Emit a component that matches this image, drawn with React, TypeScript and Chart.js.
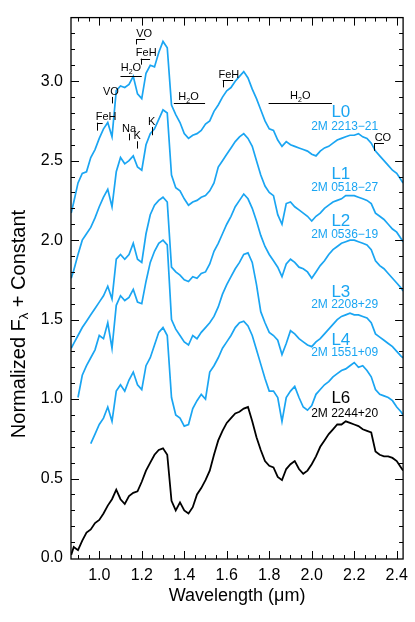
import { useEffect, useRef } from 'react';
import { Chart, registerables } from 'chart.js';

Chart.register(...registerables);

// Wavelength grid (micron)
const wavelength = [
  0.868, 0.88, 0.90, 0.92, 0.94, 0.96, 0.98,
  1.00, 1.02, 1.04, 1.06, 1.08, 1.10, 1.12, 1.14, 1.16, 1.18,
  1.20, 1.22, 1.24, 1.26, 1.28, 1.30, 1.32, 1.34, 1.36, 1.38,
  1.40, 1.42, 1.44, 1.46, 1.48, 1.50, 1.52, 1.54, 1.56, 1.58,
  1.60, 1.62, 1.64, 1.66, 1.68, 1.70, 1.72, 1.74, 1.76, 1.78,
  1.80, 1.82, 1.84, 1.86, 1.88, 1.90, 1.92, 1.94, 1.96, 1.98,
  2.00, 2.02, 2.04, 2.06, 2.08, 2.10, 2.12, 2.14, 2.16, 2.18,
  2.20, 2.22, 2.24, 2.26, 2.28, 2.30, 2.32, 2.34, 2.36, 2.38,
  2.40, 2.42, 2.43,
];

const fluxL0 = [
  2.17, 2.24, 2.36, 2.42, 2.43, 2.52, 2.57,
  2.64, 2.70, 2.74, 2.65, 2.94, 2.97, 2.96, 2.98, 3.03, 2.92,
  2.89, 3.05, 3.10, 3.09, 3.18, 3.25, 3.21, 2.85, 2.79, 2.74,
  2.67, 2.64, 2.66, 2.67, 2.69, 2.73, 2.75, 2.81, 2.85, 2.90,
  2.94, 2.96, 3.00, 3.03, 3.06, 3.02, 2.95, 2.89, 2.82, 2.75,
  2.70, 2.69, 2.63, 2.59, 2.62, 2.60, 2.59, 2.58, 2.57, 2.56,
  2.54, 2.53, 2.56, 2.58, 2.59, 2.61, 2.63, 2.64, 2.65, 2.66,
  2.66, 2.67, 2.65, 2.64, 2.61, 2.56, 2.53, 2.50, 2.47, 2.44,
  2.42, 2.38, 2.36,
];

const fluxL1 = [
  1.76, 1.81, 1.91, 2.00, 2.04, 2.08, 2.14,
  2.21, 2.27, 2.32, 2.21, 2.43, 2.52, 2.48, 2.50, 2.53, 2.46,
  2.44, 2.60, 2.67, 2.70, 2.76, 2.82, 2.80, 2.41, 2.33, 2.31,
  2.26, 2.22, 2.24, 2.25, 2.27, 2.28, 2.31, 2.36, 2.46, 2.50,
  2.54, 2.58, 2.62, 2.65, 2.67, 2.64, 2.59, 2.50, 2.41, 2.34,
  2.30, 2.28, 2.16, 2.10, 2.23, 2.24, 2.21, 2.19, 2.17, 2.15,
  2.12, 2.15, 2.17, 2.20, 2.22, 2.24, 2.25, 2.26, 2.28, 2.28,
  2.28, 2.27, 2.26, 2.25, 2.23, 2.17, 2.15, 2.13, 2.10, 2.07,
  2.05, 2.01, 1.99,
];

const fluxL2 = [
  1.32, 1.35, 1.40, 1.45, 1.49, 1.53, 1.57,
  1.61, 1.65, 1.71, 1.63, 1.88, 1.91, 1.88, 1.91, 1.98, 1.88,
  1.86, 2.04, 2.16, 2.22, 2.25, 2.27, 2.24, 1.83, 1.80, 1.78,
  1.75, 1.74, 1.77, 1.76, 1.79, 1.80, 1.85, 1.93, 1.98, 2.04,
  2.10, 2.15, 2.21, 2.25, 2.29, 2.26, 2.20, 2.12, 2.03, 1.96,
  1.91, 1.87, 1.83, 1.77, 1.85, 1.88, 1.86, 1.83, 1.82, 1.80,
  1.76, 1.80, 1.84, 1.87, 1.91, 1.94, 1.96, 1.98, 1.99, 2.00,
  2.00, 1.99, 1.98, 1.97, 1.94, 1.87, 1.84, 1.82, 1.79, 1.76,
  1.73, 1.70, 1.68,
];

const fluxL3 = [
  null, null, 1.01, 1.15, 1.21, 1.26, 1.31,
  1.40, 1.38, 1.48, 1.32, 1.59, 1.65, 1.62, 1.64, 1.69, 1.61,
  1.60, 1.74, 1.86, 1.93, 1.98, 2.00, 1.97, 1.50, 1.44, 1.40,
  1.36, 1.34, 1.40, 1.38, 1.42, 1.45, 1.48, 1.52, 1.58, 1.66,
  1.72, 1.77, 1.82, 1.86, 1.91, 1.92, 1.86, 1.72, 1.55, 1.48,
  1.42, 1.40, 1.37, 1.28, 1.35, 1.43, 1.41, 1.38, 1.36, 1.34,
  1.33, 1.36, 1.38, 1.41, 1.44, 1.47, 1.50, 1.52, 1.53, 1.54,
  1.53, 1.53, 1.52, 1.51, 1.48, 1.41, 1.39, 1.37, 1.35, 1.33,
  1.30, 1.27, 1.26,
];

const fluxL4 = [
  null, null, null, null, null, 0.72, 0.78,
  0.84, 0.88, 0.95, 0.86, 1.05, 1.09, 1.05, 1.12, 1.17, 1.09,
  1.06, 1.21, 1.26, 1.34, 1.42, 1.45, 1.40, 1.01, 0.90, 0.88,
  0.83, 0.84, 0.94, 0.99, 1.03, 1.00, 1.17, 1.21, 1.26, 1.32,
  1.36, 1.40, 1.45, 1.48, 1.49, 1.46, 1.40, 1.31, 1.22, 1.13,
  1.05, 1.05, 1.01, 0.86, 1.01, 1.05, 1.08, 1.01, 0.95, 0.93,
  0.96, 1.03, 1.06, 1.09, 1.11, 1.14, 1.16, 1.18, 1.19, 1.21,
  1.23, 1.20, 1.21, 1.18, 1.14, 1.06, 1.03, 1.02, 1.01, 0.99,
  0.95, 0.92, 0.90,
];

const fluxL6 = [
  0.02, 0.07, 0.05, 0.11, 0.16, 0.18, 0.22,
  0.24, 0.28, 0.33, 0.37, 0.43, 0.37, 0.34, 0.39, 0.41, 0.42,
  0.48, 0.55, 0.60, 0.65, 0.68, 0.69, 0.65, 0.36, 0.30, 0.35,
  0.30, 0.28, 0.32, 0.40, 0.44, 0.49, 0.55, 0.65, 0.74, 0.80,
  0.85, 0.88, 0.91, 0.92, 0.94, 0.95, 0.86, 0.76, 0.68, 0.61,
  0.58, 0.57, 0.51, 0.49, 0.56, 0.59, 0.61, 0.56, 0.53, 0.55,
  0.59, 0.64, 0.70, 0.74, 0.78, 0.81, 0.84, 0.84, 0.86, 0.85,
  0.84, 0.83, 0.81, 0.80, 0.79, 0.67, 0.65, 0.64, 0.64, 0.63,
  0.61, 0.57, 0.55,
];

const spectralTypes = ['L0', 'L1', 'L2', 'L3', 'L4', 'L6'];
const designations = ['2M 2213\u221221', '2M 0518\u221227', '2M 0536\u221219', '2M 2208+29', '2M 1551+09', '2M 2244+20'];
const seriesFlux = [fluxL0, fluxL1, fluxL2, fluxL3, fluxL4, fluxL6];

const xTickLabels = [1.0, 1.2, 1.4, 1.6, 1.8, 2.0, 2.2, 2.4];
const yTickLabels = [0.0, 0.5, 1.0, 1.5, 2.0, 2.5, 3.0];

// ---- layout / style (not data) ----
const BLUE = '#1aa5f2';
const seriesColors = [BLUE, BLUE, BLUE, BLUE, BLUE, '#000000'];
const labelTypePos = [2.807, 2.414, 2.121, 1.672, 1.372, 1.004];
const labelNamePos = [2.714, 2.333, 2.034, 1.591, 1.291, 0.906];
const LABEL_TYPE_X = 2.137;
const LABEL_NAME_X = 2.155;
const FONT = '"Liberation Sans", Arial, Helvetica, sans-serif';

type Feature = { text: string; sub?: [string, string]; tx: number; ty: number; lines: number[][] };
const features: Feature[] = [
  { text: 'FeH', tx: 1.032, ty: 2.776, lines: [[0.989, 2.689, 0.989, 2.739], [0.989, 2.739, 1.016, 2.739]] },
  { text: 'VO', tx: 1.055, ty: 2.932, lines: [[1.059, 2.860, 1.059, 2.901]] },
  { text: 'H2O', sub: ['H', 'O'], tx: 1.149, ty: 3.082, lines: [[1.100, 3.034, 1.200, 3.034]] },
  { text: 'VO', tx: 1.211, ty: 3.294, lines: [[1.173, 3.231, 1.173, 3.263], [1.173, 3.263, 1.216, 3.263]] },
  { text: 'FeH', tx: 1.221, ty: 3.175, lines: [[1.195, 3.104, 1.195, 3.142], [1.195, 3.142, 1.239, 3.142]] },
  { text: 'Na', tx: 1.140, ty: 2.701, lines: [[1.141, 2.628, 1.141, 2.670]] },
  { text: 'K', tx: 1.179, ty: 2.653, lines: [[1.177, 2.576, 1.177, 2.622]] },
  { text: 'K', tx: 1.247, ty: 2.743, lines: [[1.247, 2.660, 1.247, 2.712]] },
  { text: 'H2O', sub: ['H', 'O'], tx: 1.420, ty: 2.903, lines: [[1.351, 2.861, 1.498, 2.861]] },
  { text: 'FeH', tx: 1.610, ty: 3.041, lines: [[1.581, 2.961, 1.581, 3.007], [1.581, 3.007, 1.630, 3.007]] },
  { text: 'H2O', sub: ['H', 'O'], tx: 1.946, ty: 2.909, lines: [[1.797, 2.861, 2.095, 2.861]] },
  { text: 'CO', tx: 2.335, ty: 2.643, lines: [[2.294, 2.562, 2.294, 2.608], [2.294, 2.608, 2.340, 2.608]] },
];

const decorPlugin = {
  id: 'decor',
  afterDatasetsDraw(chart: any) {
    const { ctx, chartArea: a, scales } = chart;
    const xs = scales.x;
    const ys = scales.y;
    const X = (v: number) => xs.getPixelForValue(v);
    const Y = (v: number) => ys.getPixelForValue(v);
    const snap = (p: number) => Math.round(p) + 0.5;
    ctx.save();
    // frame
    ctx.strokeStyle = '#000';
    ctx.lineWidth = 1.3;
    ctx.strokeRect(a.left, a.top, a.right - a.left, a.bottom - a.top);
    // ticks (inward, all four sides)
    ctx.lineWidth = 1;
    ctx.beginPath();
    const MAJ = 8;
    const MIN = 4;
    for (let k = 0; k < 40; k++) {
      const v = 0.9 + k * 0.05;
      if (v > xs.max) break;
      const major = xTickLabels.some((t) => Math.abs(t - v) < 1e-6);
      const len = major ? MAJ : MIN;
      const px = snap(X(v));
      ctx.moveTo(px, a.bottom);
      ctx.lineTo(px, a.bottom - len);
      ctx.moveTo(px, a.top);
      ctx.lineTo(px, a.top + len);
    }
    for (let k = 1; k < 40; k++) {
      const v = k * 0.1;
      if (v > ys.max - 0.01) break;
      const major = yTickLabels.some((t) => Math.abs(t - v) < 1e-6);
      const len = major ? MAJ : MIN;
      const py = snap(Y(v));
      ctx.moveTo(a.left, py);
      ctx.lineTo(a.left + len, py);
      ctx.moveTo(a.right, py);
      ctx.lineTo(a.right - len, py);
    }
    ctx.stroke();

    // feature annotations
    ctx.fillStyle = '#000';
    ctx.textBaseline = 'middle';
    ctx.beginPath();
    for (const f of features) {
      for (const l of f.lines) {
        const x1 = X(l[0]);
        const y1 = Y(l[1]);
        const x2 = X(l[2]);
        const y2 = Y(l[3]);
        if (Math.abs(x1 - x2) < 0.01) {
          ctx.moveTo(snap(x1), y1);
          ctx.lineTo(snap(x2), y2);
        } else {
          ctx.moveTo(x1, snap(y1));
          ctx.lineTo(x2, snap(y2));
        }
      }
    }
    ctx.stroke();
    for (const f of features) {
      const cx = X(f.tx);
      const cy = Y(f.ty);
      if (f.sub) {
        ctx.font = `11px ${FONT}`;
        const wH = ctx.measureText(f.sub[0]).width;
        const wO = ctx.measureText(f.sub[1]).width;
        ctx.font = `7px ${FONT}`;
        const w2 = ctx.measureText('2').width;
        const total = wH + w2 + wO;
        let x0 = cx - total / 2;
        ctx.textAlign = 'left';
        ctx.font = `11px ${FONT}`;
        ctx.fillText(f.sub[0], x0, cy);
        x0 += wH;
        ctx.font = `7px ${FONT}`;
        ctx.fillText('2', x0, cy + 4);
        x0 += w2;
        ctx.font = `11px ${FONT}`;
        ctx.fillText(f.sub[1], x0, cy);
      } else {
        ctx.textAlign = 'center';
        ctx.font = `11px ${FONT}`;
        ctx.fillText(f.text, cx, cy);
      }
    }

    // spectral type labels
    ctx.textAlign = 'center';
    spectralTypes.forEach((t, i) => {
      ctx.fillStyle = seriesColors[i];
      ctx.font = `17px ${FONT}`;
      ctx.fillText(t, X(LABEL_TYPE_X), Y(labelTypePos[i]));
      ctx.font = `12px ${FONT}`;
      ctx.fillText(designations[i], X(LABEL_NAME_X), Y(labelNamePos[i]));
    });

    // axis titles
    ctx.fillStyle = '#000';
    ctx.font = `18px ${FONT}`;
    ctx.textAlign = 'center';
    ctx.fillText('Wavelength (\u03bcm)', (a.left + a.right) / 2, 596);

    ctx.translate(19, 324);
    ctx.rotate(-Math.PI / 2);
    const p1 = 'Normalized F';
    const p2 = '\u03bb';
    const p3 = ' + Constant';
    const big = 20;
    const small = 13;
    ctx.font = `${big}px ${FONT}`;
    const w1 = ctx.measureText(p1).width;
    const w3 = ctx.measureText(p3).width;
    ctx.font = `${small}px ${FONT}`;
    const w2 = ctx.measureText(p2).width;
    let sx = -(w1 + w2 + w3) / 2;
    ctx.textAlign = 'left';
    ctx.font = `${big}px ${FONT}`;
    ctx.fillText(p1, sx, 0);
    sx += w1;
    ctx.font = `${small}px ${FONT}`;
    ctx.fillText(p2, sx, 5);
    sx += w2;
    ctx.font = `${big}px ${FONT}`;
    ctx.fillText(p3, sx, 0);
    ctx.restore();
  },
};

export default function App() {
  const ref = useRef<HTMLCanvasElement>(null);
  useEffect(() => {
    if (!ref.current) return;
    Chart.defaults.font.family = FONT;
    const datasets = seriesFlux.map((flux, i) => ({
      label: spectralTypes[i],
      data: wavelength.map((w, j) => ({ x: w, y: flux[j] })),
      borderColor: seriesColors[i],
      backgroundColor: seriesColors[i],
      borderWidth: i === 5 ? 1.8 : 1.7,
      pointRadius: 0,
      tension: 0,
      spanGaps: false,
      fill: false,
    }));
    const chart = new Chart(ref.current, {
      type: 'line',
      data: { datasets: datasets as any },
      options: {
        animation: false,
        responsive: false,
        events: [],
        layout: { padding: { top: 13, right: 8, left: 0, bottom: 0 } },
        plugins: { legend: { display: false }, tooltip: { enabled: false }, title: { display: false } },
        scales: {
          x: {
            type: 'linear',
            min: 0.867,
            max: 2.43,
            grid: { display: false, drawTicks: false },
            border: { display: false },
            afterBuildTicks: (s: any) => {
              s.ticks = xTickLabels.map((v) => ({ value: v }));
            },
            afterFit: (s: any) => {
              s.height = 63;
            },
            ticks: {
              color: '#000',
              font: { size: 16, family: FONT },
              padding: 7,
              maxRotation: 0,
              autoSkip: false,
              callback: (v: any) => Number(v).toFixed(1),
            },
          },
          y: {
            type: 'linear',
            min: -0.006,
            max: 3.4,
            grid: { display: false, drawTicks: false },
            border: { display: false },
            afterBuildTicks: (s: any) => {
              s.ticks = yTickLabels.map((v) => ({ value: v }));
            },
            afterFit: (s: any) => {
              s.width = 71;
            },
            ticks: {
              color: '#000',
              font: { size: 16, family: FONT },
              padding: 8,
              autoSkip: false,
              callback: (v: any) => Number(v).toFixed(1),
            },
          },
        },
      },
      plugins: [decorPlugin],
    });
    return () => chart.destroy();
  }, []);
  return (
    <div style={{ position: 'absolute', left: 0, top: 0, width: 415, height: 622, background: '#fff' }}>
      <canvas ref={ref} width={415} height={622} style={{ width: 415, height: 622, display: 'block' }} />
    </div>
  );
}
